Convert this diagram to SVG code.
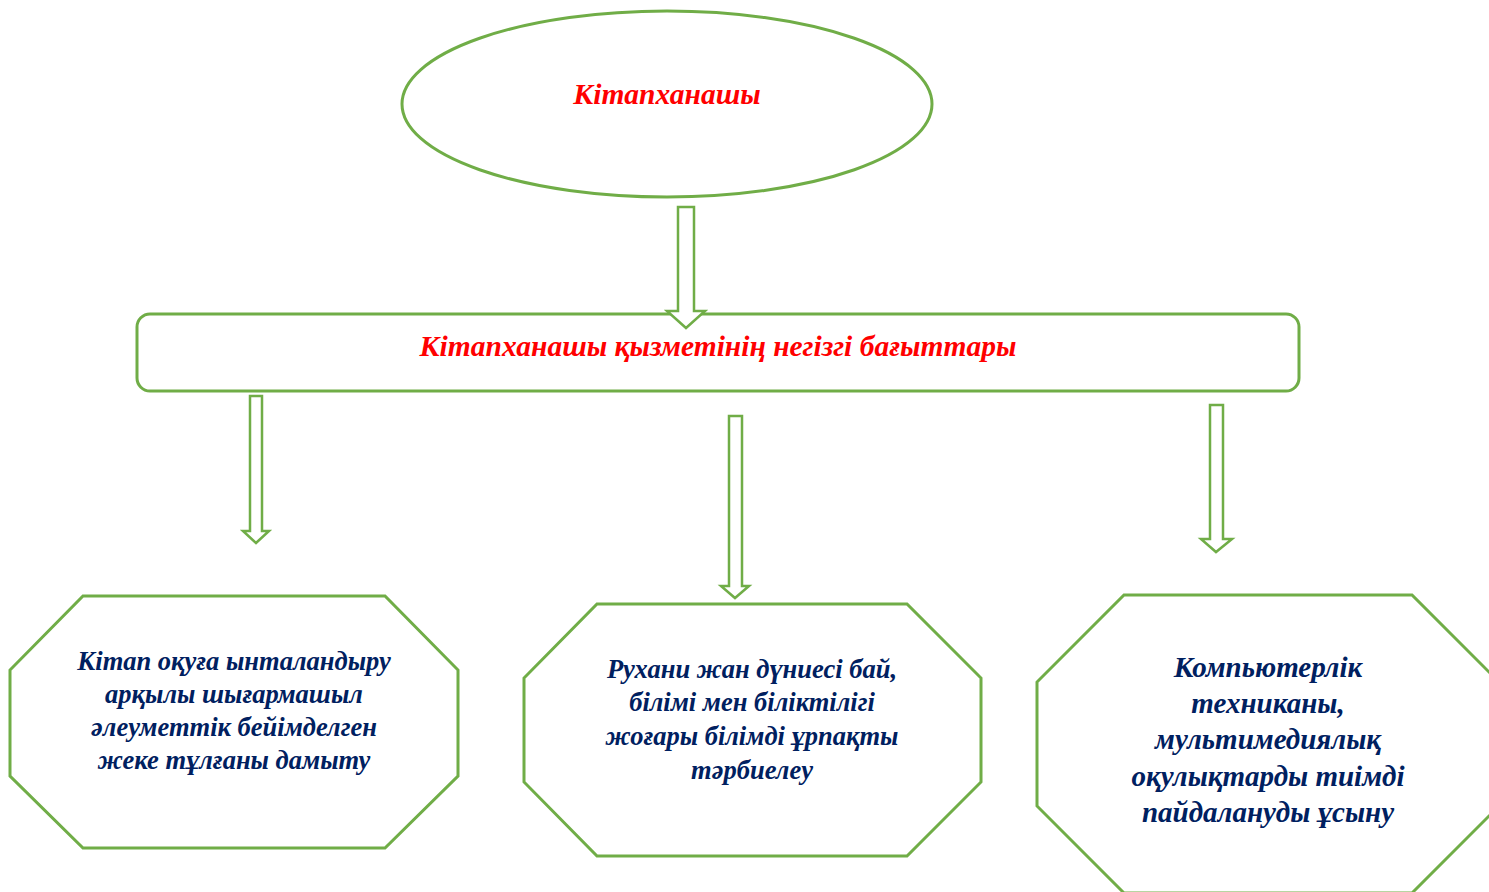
<svg xmlns="http://www.w3.org/2000/svg" width="1489" height="892" viewBox="0 0 1489 892">
<style>
.shape{fill:#fff;stroke:#70AD47;stroke-width:3}
.arrow{fill:#fff;stroke:#70AD47;stroke-width:2.5}
.t{font-family:"Liberation Serif","Times New Roman",serif;font-weight:bold;font-style:italic;text-anchor:middle}
.red{fill:#FF0000;font-size:29.5px}
.blue{fill:#002060;font-size:26.5px}
.blue2{fill:#002060;font-size:29px}
</style>
<rect width="1489" height="892" fill="#fff"/>
<g id="node-librarian">
<ellipse class="shape" cx="667" cy="104" rx="265" ry="93"/>
<text class="t red" x="667" y="104">Кітапханашы</text>
</g>
<g id="node-directions">
<rect class="shape" x="137" y="314" width="1162" height="77" rx="13"/>
<text class="t red" x="718" y="356">Кітапханашы қызметінің негізгі бағыттары</text>
</g>
<g id="node-reading">
<polygon class="shape" points="83,596 385,596 458,670 458,776 385,848 83,848 10,776 10,670"/>
<text class="t blue" x="234" y="670">Кітап оқуға ынталандыру</text>
<text class="t blue" x="234" y="703">арқылы шығармашыл</text>
<text class="t blue" x="234" y="736">әлеуметтік бейімделген</text>
<text class="t blue" x="234" y="769">жеке тұлғаны дамыту</text>
</g>
<g id="node-spiritual">
<polygon class="shape" points="597,604 907,604 981,678 981,782 907,856 597,856 524,782 524,678"/>
<text class="t blue" x="752" y="678">Рухани жан дүниесі бай,</text>
<text class="t blue" x="752" y="711">білімі мен біліктілігі</text>
<text class="t blue" x="752" y="745">жоғары білімді ұрпақты</text>
<text class="t blue" x="752" y="779">тәрбиелеу</text>
</g>
<g id="node-computer">
<polygon class="shape" points="1124,595 1412,595 1499,682 1499,806 1412,893 1124,893 1037,806 1037,682"/>
<text class="t blue2" x="1268" y="677">Компьютерлік</text>
<text class="t blue2" x="1268" y="713">техниканы,</text>
<text class="t blue2" x="1268" y="749">мультимедиялық</text>
<text class="t blue2" x="1268" y="786">оқулықтарды тиімді</text>
<text class="t blue2" x="1268" y="822">пайдалануды ұсыну</text>
</g>
<g id="connectors">
<polygon class="arrow" points="678,207 694,207 694,311 705,311 686,328 667,311 678,311"/>
<polygon class="arrow" points="250,396 262,396 262,531 269,531 256,543 243,531 250,531"/>
<polygon class="arrow" points="729,416 742,416 742,586 749,586 735,598 721,586 729,586"/>
<polygon class="arrow" points="1210,405 1223,405 1223,539 1232,539 1216,552 1201,539 1210,539"/>
</g>
</svg>
